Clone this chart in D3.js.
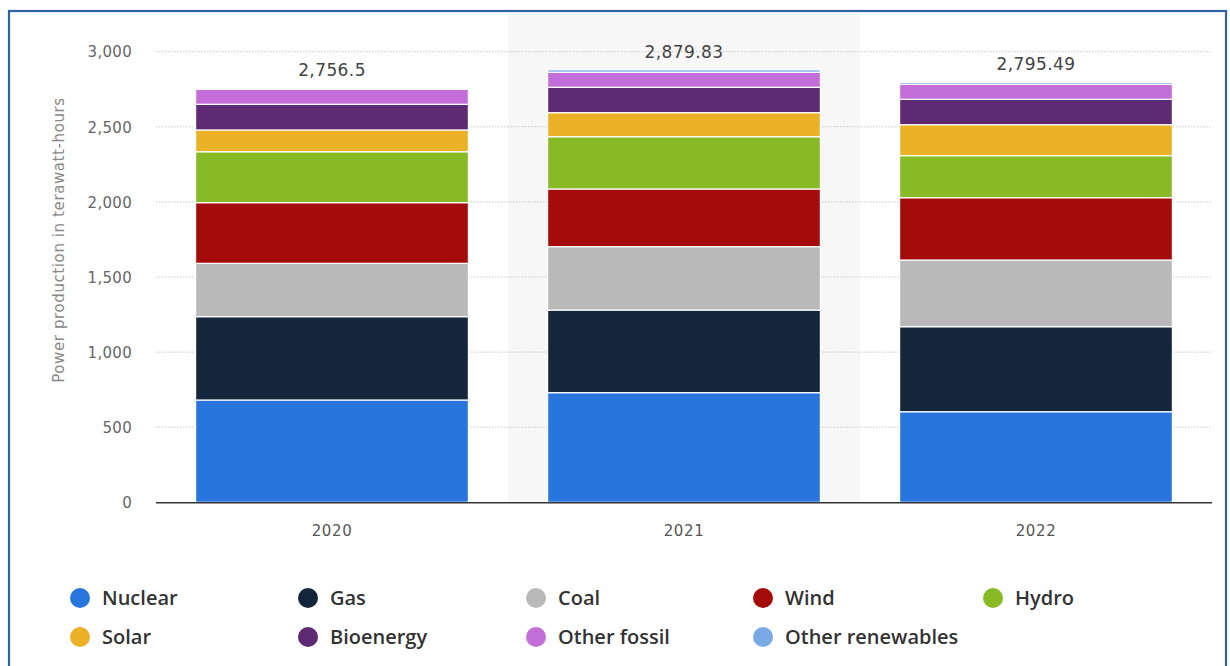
<!DOCTYPE html>
<html>
<head>
<meta charset="utf-8">
<script src="https://cdn.jsdelivr.net/npm/d3@7"></script>
<style>
  html, body { margin: 0; padding: 0; background: #fff; }
  svg { display: block; }
</style>
</head>
<body>
<svg id="chart" width="1230" height="666"></svg>
<script>
const years = ["2020", "2021", "2022"];
const sources = ["Nuclear", "Gas", "Coal", "Wind", "Hydro", "Solar", "Bioenergy", "Other fossil", "Other renewables"];
const nuclear = [681, 730, 603];
const gas = [555, 550, 566];
const coal = [355, 422, 444];
const wind = [404, 384, 415];
const hydro = [339, 348, 280];
const solar = [145, 160, 206];
const bioenergy = [171, 169, 169];
const otherFossil = [100, 100, 100];
const otherRenewables = [6.5, 16.83, 12.49];
const totalLabels = ["2,756.5", "2,879.83", "2,795.49"];
const yTicks = [0, 500, 1000, 1500, 2000, 2500, 3000];
const colors = ["#2876dd", "#13263b", "#b9b9b9", "#a50b0b", "#88ba26", "#ebb228", "#5d2a73", "#c36ed8", "#7aaae6"];

const seriesValues = [nuclear, gas, coal, wind, hydro, solar, bioenergy, otherFossil, otherRenewables];
const rows = years.map((yr, i) => {
  const r = { year: yr };
  sources.forEach((s, k) => r[s] = seriesValues[k][i]);
  return r;
});

const svg = d3.select("#chart");
const plotLeft = 156, plotRight = 1212, plotTop = 51.7, plotBottom = 502.3;

const x = d3.scaleBand().domain(years).range([plotLeft, plotRight]).paddingInner(0.225).paddingOuter(0.1125);
const y = d3.scaleLinear().domain([0, 3000]).range([plotBottom, plotTop]);
const color = d3.scaleOrdinal().domain(sources).range(colors);

// frame
svg.append("rect").attr("x", 9).attr("y", 11).attr("width", 1217).attr("height", 700)
  .attr("fill", "none").attr("stroke", "#2e62a6").attr("stroke-width", 2.2);

// highlighted category band
svg.append("rect")
  .attr("x", x("2021") - x.step() * x.paddingInner() / 2)
  .attr("y", 13).attr("width", x.step()).attr("height", plotBottom - 13)
  .attr("fill", "#f7f7f7");

// gridlines
svg.append("g").selectAll("line").data(yTicks.filter(d => d > 0)).join("line")
  .attr("x1", plotLeft).attr("x2", plotRight)
  .attr("y1", d => y(d)).attr("y2", d => y(d))
  .attr("stroke", "#c8c8c8").attr("stroke-width", 1).attr("stroke-dasharray", "1.5,1.5");

// y axis
const yAxis = svg.append("g").attr("transform", `translate(${plotLeft - 24},0)`)
  .call(d3.axisLeft(y).tickValues(yTicks).tickSize(0).tickPadding(0).tickFormat(d3.format(",")));
yAxis.select(".domain").remove();
yAxis.selectAll("text").attr("fill", "#666").style("font-family", "DejaVu Sans, sans-serif")
  .style("font-size", "15px").style("letter-spacing", "0.3px").attr("dy", "0.35em");

// y title
svg.append("text").attr("transform", `translate(64,240) rotate(-90)`)
  .attr("text-anchor", "middle").attr("fill", "#888")
  .style("font-family", "DejaVu Sans, sans-serif").style("font-size", "15px")
  .style("letter-spacing", "0.6px")
  .text("Power production in terawatt-hours");

// stacks
const stack = d3.stack().keys(sources)(rows);
svg.append("g").selectAll("g").data(stack).join("g")
  .attr("fill", d => color(d.key))
  .selectAll("rect").data(d => d).join("rect")
  .attr("x", d => x(d.data.year))
  .attr("width", x.bandwidth())
  .attr("y", d => y(d[1]))
  .attr("height", d => Math.max(0, y(d[0]) - y(d[1])))
  .attr("stroke", "#fff").attr("stroke-width", 1.2);

// baseline
svg.append("line").attr("x1", plotLeft).attr("x2", plotRight).attr("y1", plotBottom + 0.5).attr("y2", plotBottom + 0.5)
  .attr("stroke", "#333").attr("stroke-width", 1.6);

// total labels
const totals = rows.map(r => d3.sum(sources, s => r[s]));
svg.append("g").selectAll("text").data(years).join("text")
  .attr("x", d => x(d) + x.bandwidth() / 2)
  .attr("y", (d, i) => y(totals[i]) - 12)
  .attr("text-anchor", "middle").attr("fill", "#444")
  .style("font-family", "DejaVu Sans, sans-serif").style("font-size", "17px")
  .style("letter-spacing", "0.4px")
  .text((d, i) => totalLabels[i]);

// x axis labels
const xAxis = svg.append("g").attr("transform", `translate(0,${plotBottom})`)
  .call(d3.axisBottom(x).tickSize(0).tickPadding(34));
xAxis.select(".domain").remove();
xAxis.selectAll("text").attr("fill", "#555").attr("dy", 0)
  .style("font-family", "DejaVu Sans, sans-serif").style("font-size", "15px")
  .style("letter-spacing", "0.6px");

// legend
const legendX = [80, 308, 536, 763, 993];
const legendY = [598, 637];
const lg = svg.append("g").selectAll("g").data(sources).join("g")
  .attr("transform", (d, i) => `translate(${legendX[i % 5]},${legendY[Math.floor(i / 5)]})`);
lg.append("circle").attr("r", 10).attr("fill", d => color(d));
lg.append("text").attr("x", 22).attr("dy", "0.36em").attr("fill", "#333")
  .style("font-family", "'Open Sans', sans-serif").style("font-size", "20px").style("font-weight", 600)
  .text(d => d);
</script>
</body>
</html>
